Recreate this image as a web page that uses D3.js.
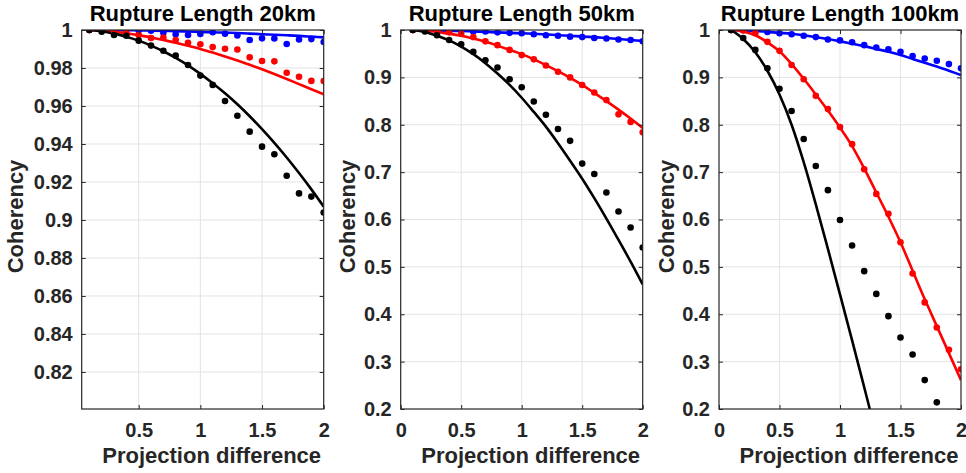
<!DOCTYPE html>
<html>
<head>
<meta charset="utf-8">
<script src="https://d3js.org/d3.v7.min.js"></script>
<style>
  body { margin: 0; background: #fff; }
  text { font-family: "Liberation Sans", Arial, Helvetica, sans-serif; font-weight: bold; }
</style>
</head>
<body>
<div id="chart-region"></div>
<script>
// projection difference (x) for every point
const projDiff = [0.1, 0.2, 0.3, 0.4, 0.5, 0.6, 0.7, 0.8, 0.9, 1.0, 1.1, 1.2, 1.3, 1.4, 1.5, 1.6, 1.7, 1.8, 1.9, 2.0];

// Rupture length 20km
const dots20Black = [1.0000, 0.9991, 0.9974, 0.9970, 0.9944, 0.9918, 0.9891, 0.9865, 0.9816, 0.9760, 0.9711, 0.9626, 0.9549, 0.9465, 0.9386, 0.9346, 0.9233, 0.9140, 0.9123, 0.9039];
const line20Black = [1.0000, 0.9993, 0.9981, 0.9965, 0.9944, 0.9918, 0.9888, 0.9853, 0.9814, 0.9769, 0.9720, 0.9667, 0.9609, 0.9546, 0.9478, 0.9406, 0.9329, 0.9247, 0.9161, 0.9070];
const dots20Red = [1.0000, 1.0000, 0.9993, 0.9985, 0.9974, 0.9958, 0.9960, 0.9947, 0.9933, 0.9925, 0.9910, 0.9901, 0.9897, 0.9856, 0.9837, 0.9835, 0.9775, 0.9754, 0.9732, 0.9731];
const line20Red = [1.0000, 0.9997, 0.9991, 0.9983, 0.9973, 0.9961, 0.9948, 0.9933, 0.9917, 0.9900, 0.9881, 0.9861, 0.9840, 0.9817, 0.9793, 0.9768, 0.9742, 0.9715, 0.9688, 0.9662];
const dots20Blue = [1.0000, 1.0000, 1.0000, 1.0000, 0.9997, 0.9996, 0.9986, 0.9978, 0.9974, 0.9979, 0.9988, 0.9980, 0.9971, 0.9947, 0.9956, 0.9955, 0.9926, 0.9950, 0.9952, 0.9937];
const line20Blue = [1.0000, 1.0000, 0.9999, 0.9999, 0.9998, 0.9997, 0.9995, 0.9994, 0.9992, 0.9990, 0.9988, 0.9986, 0.9984, 0.9981, 0.9978, 0.9975, 0.9972, 0.9969, 0.9965, 0.9961];

// Rupture length 50km
const dots50Black = [1.000, 0.997, 0.989, 0.979, 0.970, 0.954, 0.936, 0.921, 0.896, 0.879, 0.849, 0.821, 0.791, 0.766, 0.718, 0.696, 0.657, 0.617, 0.583, 0.541];
const line50Black = [1.000, 0.996, 0.988, 0.978, 0.965, 0.949, 0.930, 0.908, 0.884, 0.857, 0.827, 0.796, 0.761, 0.724, 0.686, 0.645, 0.602, 0.557, 0.511, 0.463];
const dots50Red = [1.000, 1.000, 0.999, 0.995, 0.992, 0.985, 0.976, 0.968, 0.958, 0.947, 0.938, 0.925, 0.912, 0.900, 0.884, 0.868, 0.852, 0.822, 0.806, 0.784];
const line50Red = [1.000, 0.998, 0.996, 0.992, 0.988, 0.982, 0.975, 0.967, 0.958, 0.949, 0.938, 0.926, 0.913, 0.899, 0.884, 0.867, 0.850, 0.832, 0.813, 0.793];
const dots50Blue = [1.000, 1.000, 1.000, 0.999, 0.999, 0.997, 0.997, 0.995, 0.994, 0.993, 0.991, 0.989, 0.988, 0.986, 0.985, 0.983, 0.982, 0.980, 0.979, 0.976];
const line50Blue = [1.000, 1.000, 0.999, 0.998, 0.998, 0.997, 0.996, 0.995, 0.994, 0.993, 0.992, 0.991, 0.989, 0.988, 0.986, 0.985, 0.983, 0.981, 0.979, 0.977];

// Rupture length 100km (null = below the axis)
const dots100Black = [1.000, 0.983, 0.958, 0.919, 0.876, 0.829, 0.770, 0.713, 0.662, 0.599, 0.545, 0.491, 0.443, 0.396, 0.351, 0.315, 0.261, 0.214, null, null];
const line100Black = [1.000, 0.981, 0.953, 0.914, 0.864, 0.800, 0.721, 0.632, 0.538, 0.442, 0.345, 0.246, 0.146, null, null, null, null, null, null, null];
const dots100Red = [1.000, 0.999, 0.993, 0.975, 0.956, 0.926, 0.896, 0.861, 0.833, 0.795, 0.759, 0.706, 0.654, 0.612, 0.552, 0.486, 0.425, 0.372, 0.325, 0.284];
const line100Red = [1.000, 0.997, 0.989, 0.974, 0.955, 0.928, 0.897, 0.864, 0.830, 0.794, 0.755, 0.708, 0.657, 0.606, 0.552, 0.492, 0.432, 0.375, 0.318, 0.261];
const dots100Blue = [1.000, 1.000, 0.999, 0.996, 0.993, 0.991, 0.988, 0.985, 0.980, 0.978, 0.974, 0.968, 0.963, 0.959, 0.954, 0.945, 0.940, 0.935, 0.928, 0.919];
const line100Blue = [1.000, 0.999, 0.998, 0.996, 0.994, 0.992, 0.989, 0.985, 0.981, 0.976, 0.971, 0.966, 0.960, 0.954, 0.947, 0.939, 0.931, 0.923, 0.914, 0.905];

// axis ticks
const xTicks20 = [0.5, 1, 1.5, 2];
const xTicksFull = [0, 0.5, 1, 1.5, 2];
const yTicks20 = [0.82, 0.84, 0.86, 0.88, 0.9, 0.92, 0.94, 0.96, 0.98, 1];
const yTicksFull = [0.2, 0.3, 0.4, 0.5, 0.6, 0.7, 0.8, 0.9, 1];

const titles = ["Rupture Length 20km", "Rupture Length 50km", "Rupture Length 100km"];

const WIDTH = 966, HEIGHT = 473;
const TOP = 30, BOTTOM = 409, PANEL_W = 242;
const AXIS_COLOR = "#262626";
const colorMapper = {black: "#000000", red: "#ff0000", blue: "#0000ff"};

const panels = [
    {left: 81.7, title: titles[0], xDomain: [0.038, 2], yDomain: [0.8005, 1], xTicks: xTicks20, yTicks: yTicks20, yLabelOff: 66,
     series: [["blue", line20Blue, dots20Blue], ["red", line20Red, dots20Red], ["black", line20Black, dots20Black]]},
    {left: 400.7, title: titles[1], xDomain: [0, 2], yDomain: [0.2, 1], xTicks: xTicksFull, yTicks: yTicksFull, yLabelOff: 53,
     series: [["blue", line50Blue, dots50Blue], ["red", line50Red, dots50Red], ["black", line50Black, dots50Black]]},
    {left: 719, title: titles[2], xDomain: [0, 2], yDomain: [0.2, 1], xTicks: xTicksFull, yTicks: yTicksFull, yLabelOff: 53,
     series: [["blue", line100Blue, dots100Blue], ["red", line100Red, dots100Red], ["black", line100Black, dots100Black]]}
];

const chart = d3.select("#chart-region").append("svg")
    .attr("width", WIDTH)
    .attr("height", HEIGHT);

function drawPanel(p, i) {
    const H = BOTTOM - TOP;
    const g = chart.append("g").attr("transform", `translate(${p.left}, ${TOP})`);
    const x = d3.scaleLinear().domain(p.xDomain).range([0, PANEL_W]);
    const y = d3.scaleLinear().domain(p.yDomain).range([H, 0]);
    const fmt = d3.format("~g");

    g.append("rect").attr("width", PANEL_W).attr("height", H).attr("fill", "white");

    // grid
    g.append("g").selectAll("line")
        .data(p.xTicks.filter(t => t > p.xDomain[0] && t < p.xDomain[1]))
        .enter().append("line")
        .attr("x1", d => x(d)).attr("x2", d => x(d))
        .attr("y1", 0).attr("y2", H)
        .attr("stroke", "#e3e3e3").attr("stroke-width", 1);
    g.append("g").selectAll("line")
        .data(p.yTicks.filter(t => t > p.yDomain[0] && t < p.yDomain[1]))
        .enter().append("line")
        .attr("x1", 0).attr("x2", PANEL_W)
        .attr("y1", d => y(d)).attr("y2", d => y(d))
        .attr("stroke", "#e3e3e3").attr("stroke-width", 1);

    // lines and dots
    const clipId = "clip" + i;
    g.append("clipPath").attr("id", clipId)
        .append("rect").attr("width", PANEL_W).attr("height", H);
    const plot = g.append("g").attr("clip-path", `url(#${clipId})`);

    const line = d3.line()
        .defined(d => d[1] !== null)
        .x(d => x(d[0]))
        .y(d => y(d[1]))
        .curve(d3.curveMonotoneX);

    p.series.forEach(s => {
        const pts = projDiff.map((v, k) => [v, s[1][k]]);
        plot.append("path")
            .attr("d", line(pts))
            .attr("fill", "none")
            .attr("stroke", colorMapper[s[0]])
            .attr("stroke-width", 2.6);
    });
    p.series.forEach(s => {
        const pts = projDiff.map((v, k) => [v, s[2][k]]).filter(d => d[1] !== null);
        plot.append("g").selectAll("circle")
            .data(pts)
            .enter().append("circle")
            .attr("cx", d => x(d[0]))
            .attr("cy", d => y(d[1]))
            .attr("r", 3.3)
            .style("fill", colorMapper[s[0]]);
    });

    // axes
    const xAxis = g.append("g")
        .attr("transform", `translate(0, ${H})`)
        .call(d3.axisBottom(x).tickValues(p.xTicks).tickFormat(fmt)
            .tickSizeInner(-4).tickSizeOuter(0).tickPadding(13.5));
    const yAxis = g.append("g")
        .call(d3.axisLeft(y).tickValues(p.yTicks).tickFormat(fmt)
            .tickSizeInner(-4).tickSizeOuter(0).tickPadding(9));
    g.append("g")
        .call(d3.axisTop(x).tickValues(p.xTicks).tickFormat("").tickSizeInner(-4).tickSizeOuter(0));
    g.append("g")
        .attr("transform", `translate(${PANEL_W}, 0)`)
        .call(d3.axisRight(y).tickValues(p.yTicks).tickFormat("").tickSizeInner(-4).tickSizeOuter(0));

    g.selectAll(".domain").remove();
    g.selectAll(".tick line").attr("stroke", AXIS_COLOR);
    [xAxis, yAxis].forEach(a => a.selectAll("text")
        .attr("fill", AXIS_COLOR)
        .style("font-size", "20px")
        .style("font-family", "'Liberation Sans', Arial, sans-serif")
        .style("font-weight", "bold"));

    // box
    g.append("rect")
        .attr("width", PANEL_W).attr("height", H)
        .attr("fill", "none")
        .attr("stroke", AXIS_COLOR)
        .attr("stroke-width", 1.2);

    // title
    chart.append("text")
        .attr("x", p.left + PANEL_W / 2)
        .attr("y", 21)
        .attr("text-anchor", "middle")
        .attr("font-size", "22px")
        .attr("fill", "#000")
        .text(p.title);

    // x label
    chart.append("text")
        .attr("x", p.left + PANEL_W / 2 + 9)
        .attr("y", 463)
        .attr("text-anchor", "middle")
        .attr("font-size", "22px")
        .attr("fill", AXIS_COLOR)
        .text("Projection difference");

    // y label
    chart.append("text")
        .attr("transform", `translate(${p.left - p.yLabelOff}, ${(TOP + BOTTOM) / 2 - 3}) rotate(-90)`)
        .attr("text-anchor", "middle")
        .attr("dominant-baseline", "central")
        .attr("font-size", "22px")
        .attr("fill", AXIS_COLOR)
        .text("Coherency");
}

panels.forEach(drawPanel);
</script>
</body>
</html>
